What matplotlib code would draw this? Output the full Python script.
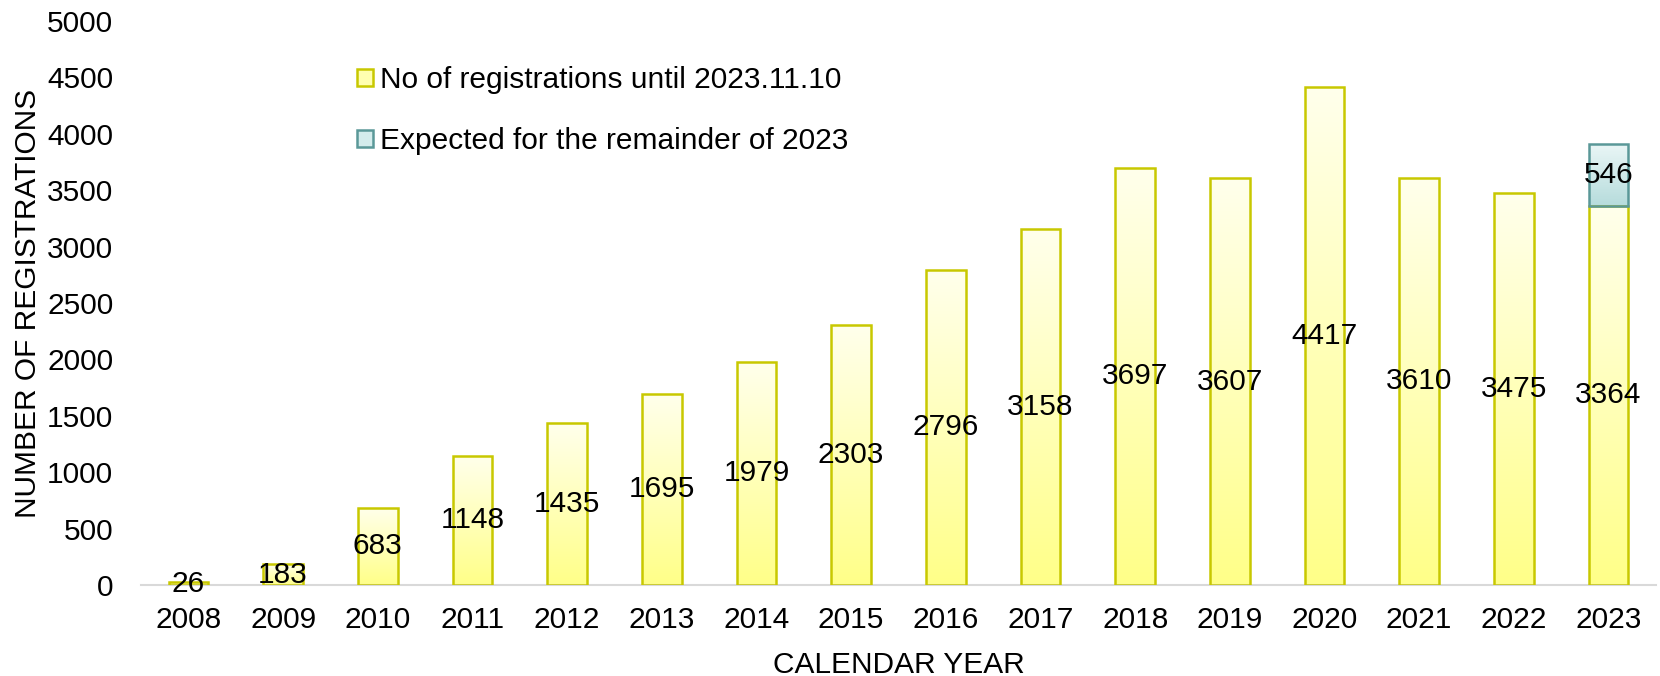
import numpy as np
import matplotlib.pyplot as plt
from matplotlib.patches import Patch

# dane
lata = ['2008', '2009', '2010', '2011', '2012', '2013', '2014', '2015',
        '2016', '2017', '2018', '2019', '2020', '2021', '2022', '2023']
rejestracje = [26, 183, 683, 1148, 1435, 1695, 1979, 2303,
               2796, 3158, 3697, 3607, 4417, 3610, 3475, 3364]
oczekiwane_2023 = 546

plt.rcParams['font.family'] = ['Liberation Sans', 'DejaVu Sans']
FS = 21.5

fig = plt.figure(figsize=(16.6, 6.76), dpi=100)
ax = fig.add_axes([0.085, 0.1346, 0.9125, 0.8344])

x = np.arange(len(lata))
szer = 0.42

# gradient pionowy: jasny u gory, mocniejszy u dolu
def slupek(xc, dol, wys, kol_gora, kol_dol, krawedz):
    bar = ax.bar(xc, wys, bottom=dol, width=szer, color='none',
                 edgecolor=krawedz, linewidth=1.8, zorder=3)[0]
    grad = np.linspace(0, 1, 256).reshape(-1, 1)
    c1 = np.array(plt.matplotlib.colors.to_rgb(kol_dol))
    c2 = np.array(plt.matplotlib.colors.to_rgb(kol_gora))
    img = c1[None, None, :] * (1 - grad[:, :, None]) + c2[None, None, :] * grad[:, :, None]
    im = ax.imshow(img, extent=[xc - szer / 2, xc + szer / 2, dol, dol + wys],
                   origin='lower', aspect='auto', zorder=2)
    im.set_clip_path(bar)
    return bar

for i, v in enumerate(rejestracje):
    slupek(x[i], 0, v, '#FFFFEC', '#FFFF88', '#C8C800')
    ax.text(x[i], v / 2, str(v), ha='center', va='center', fontsize=FS, zorder=5)

slupek(x[-1], rejestracje[-1], oczekiwane_2023, '#EAF6F6', '#B6DCDC', '#5A9898')
ax.text(x[-1], rejestracje[-1] + oczekiwane_2023 / 2, str(oczekiwane_2023),
        ha='center', va='center', fontsize=FS, zorder=5)

ax.set_xlim(-0.5, len(lata) - 0.5)
ax.set_ylim(0, 5000)
ax.set_yticks(np.arange(0, 5001, 500))
ax.set_xticks(x)
ax.set_xticklabels(lata)
ax.tick_params(axis='y', length=0, pad=20, labelsize=FS)
ax.tick_params(axis='x', length=0, pad=15, labelsize=FS)

for s in ['top', 'right', 'left']:
    ax.spines[s].set_visible(False)
ax.spines['bottom'].set_color('#D9D9D9')
ax.spines['bottom'].set_linewidth(1.5)

ax.set_xlabel('CALENDAR YEAR', fontsize=FS, labelpad=12)
ax.set_ylabel('NUMBER OF REGISTRATIONS', fontsize=FS, labelpad=4)

uchwyty = [Patch(facecolor='#FFFFB0', edgecolor='#C8C800', linewidth=1.8),
           Patch(facecolor='#D4ECEC', edgecolor='#5A9898', linewidth=1.8)]
ax.legend(uchwyty, ['No of registrations until 2023.11.10',
                    'Expected for the remainder of 2023'],
          loc='upper left', bbox_to_anchor=(357 / 1660, 1 - 66 / 676),
          bbox_transform=fig.transFigure, frameon=False, fontsize=FS,
          handlelength=0.52, handleheight=0.52, handletextpad=0.25,
          labelspacing=1.1, borderpad=0, borderaxespad=0)

fig.savefig('out.png', dpi=100)
